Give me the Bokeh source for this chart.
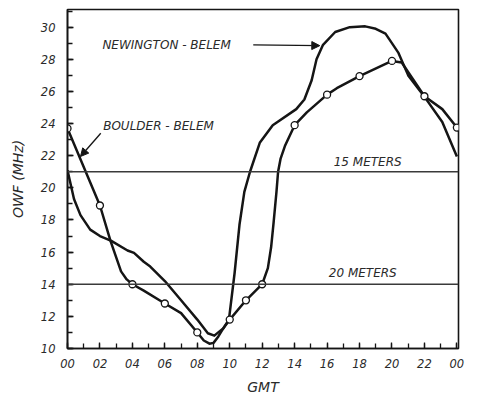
from bokeh.plotting import figure
from bokeh.models import FixedTicker, Label, Arrow, NormalHead, Span, Range1d
from bokeh.embed import file_html
from bokeh.resources import INLINE

# ---- data ----
# Boulder-Belem: measured points (open circles)
boulder_marker_hours = [0, 2, 4, 6, 8, 10, 11, 12, 14, 16, 18, 20, 22, 24]
boulder_marker_owf = [23.7, 18.9, 14.0, 12.8, 11.0, 11.8, 13.0, 14.0, 23.9, 25.8, 26.95, 27.9, 25.7, 23.75]

# Boulder-Belem: traced curve
boulder_hours = [0, 2, 2.65, 3.3, 3.65, 4, 4.7, 6, 7, 8, 8.4, 8.75, 9.0, 9.3, 9.6, 10, 11, 12,
                 12.35, 12.55, 12.7, 12.88, 12.98, 13.13, 13.4, 14, 14.75, 16, 16.6, 18, 20, 20.6, 22, 23.1, 24]
boulder_owf = [23.7, 18.9, 16.7, 14.8, 14.3, 14.0, 13.6, 12.8, 12.2, 11.0, 10.5, 10.3, 10.35, 10.75, 11.25, 11.8, 13.0, 14.0,
               15.0, 16.3, 17.8, 19.75, 21.0, 21.8, 22.6, 23.9, 24.7, 25.8, 26.2, 26.95, 27.9, 27.8, 25.7, 24.9, 23.75]

# Newington-Belem: traced curve
newington_hours = [0, 0.4, 0.8, 1.4, 2.0, 2.7, 3.7, 4.1, 4.7, 5.1, 6.0, 7.0, 8.0, 8.65, 9.05, 9.35, 9.6, 9.95,
                   10.3, 10.6, 10.9, 11.25, 11.85, 12.65, 14.1, 14.6, 15.05, 15.35, 15.75, 16.5, 17.4, 18.35,
                   19.0, 19.6, 20.4, 21.0, 22.05, 23.1, 24]
newington_owf = [21.1, 19.3, 18.3, 17.4, 17.0, 16.7, 16.1, 15.95, 15.4, 15.1, 14.2, 13.0, 11.8, 10.95, 10.8, 11.05, 11.25, 11.8,
                 14.7, 17.7, 19.75, 21.0, 22.8, 23.9, 24.9, 25.5, 26.7, 28.0, 28.9, 29.7, 30.0, 30.05,
                 29.9, 29.6, 28.4, 27.0, 25.6, 24.1, 21.95]

# Amateur band reference levels
band_levels = [21, 14]
band_labels = ["15 METERS", "20 METERS"]

x_ticks = [0, 2, 4, 6, 8, 10, 12, 14, 16, 18, 20, 22, 24]
x_tick_labels = ["00", "02", "04", "06", "08", "10", "12", "14", "16", "18", "20", "22", "00"]
y_ticks = [10, 12, 14, 16, 18, 20, 22, 24, 26, 28, 30]
y_tick_labels = ["10", "12", "14", "16", "18", "20", "22", "24", "26", "28", "30"]

FONT = "DejaVu Sans"
INK = "#151515"
TXT = "#2a2a2a"

p = figure(width=477, height=397, x_range=Range1d(0, 24.1), y_range=Range1d(10, 31.1),
           output_backend="svg", toolbar_location=None,
           min_border_left=67, min_border_right=19, min_border_top=9, min_border_bottom=45)
p.background_fill_color = "white"
p.border_fill_color = "white"
p.outline_line_color = INK
p.outline_line_width = 1.6
p.xgrid.visible = False
p.ygrid.visible = False

for ax in (p.xaxis[0], p.yaxis[0]):
    ax.axis_line_color = INK
    ax.axis_line_width = 1.6
    ax.major_tick_in = 6
    ax.major_tick_out = 0
    ax.minor_tick_in = 5
    ax.minor_tick_out = 0
    ax.major_tick_line_color = INK
    ax.minor_tick_line_color = INK
    ax.major_tick_line_width = 1.3
    ax.minor_tick_line_width = 1.3
    ax.major_label_text_font = FONT
    ax.major_label_text_font_style = "italic"
    ax.major_label_text_font_size = "11.5px"
    ax.major_label_text_color = TXT
    ax.axis_label_text_font = FONT
    ax.axis_label_text_font_style = "italic"
    ax.axis_label_text_font_size = "14px"
    ax.axis_label_text_color = TXT

p.xaxis.ticker = FixedTicker(ticks=x_ticks, minor_ticks=list(range(0, 25)))
p.xaxis.major_label_overrides = {t: l for t, l in zip(x_ticks, x_tick_labels)}
p.xaxis.major_label_standoff = 10
p.xaxis.axis_label = "GMT"
p.xaxis.axis_label_standoff = 8

p.yaxis.ticker = FixedTicker(ticks=y_ticks, minor_ticks=list(range(10, 32)))
p.yaxis.major_label_overrides = {t: l for t, l in zip(y_ticks, y_tick_labels)}
p.yaxis.major_label_standoff = 12
p.yaxis.axis_label = "OWF (MHz)"
p.yaxis.axis_label_standoff = 12

# band lines
for lvl in band_levels:
    p.add_layout(Span(location=lvl, dimension="width", line_color="#3a3a3a", line_width=1.3))

# curves
p.line(newington_hours, newington_owf, line_color=INK, line_width=2.5, line_join="round")
p.line(boulder_hours, boulder_owf, line_color=INK, line_width=2.5, line_join="round")
p.scatter(boulder_marker_hours, boulder_marker_owf, marker="circle", size=7,
          fill_color="white", line_color=INK, line_width=1.3)

def lab(x, y, text, size="12px", align="left"):
    p.add_layout(Label(x=x, y=y, text=text, text_font=FONT, text_font_style="italic",
                       text_font_size=size, text_color=TXT, text_align=align,
                       text_baseline="middle"))

lab(2.15, 28.9, "NEWINGTON - BELEM")
lab(2.2, 23.85, "BOULDER - BELEM")
lab(18.5, band_levels[0] + 0.62, band_labels[0], align="center")
lab(18.2, band_levels[1] + 0.68, band_labels[1], align="center")

p.add_layout(Arrow(end=NormalHead(size=8, fill_color=INK, line_color=INK),
                   x_start=11.45, y_start=28.9, x_end=15.55, y_end=28.85,
                   line_color=INK, line_width=1.3))
p.add_layout(Arrow(end=NormalHead(size=8, fill_color=INK, line_color=INK),
                   x_start=2.05, y_start=23.4, x_end=0.8, y_end=21.95,
                   line_color=INK, line_width=1.3))

open("out.html", "w").write(file_html(p, INLINE))
